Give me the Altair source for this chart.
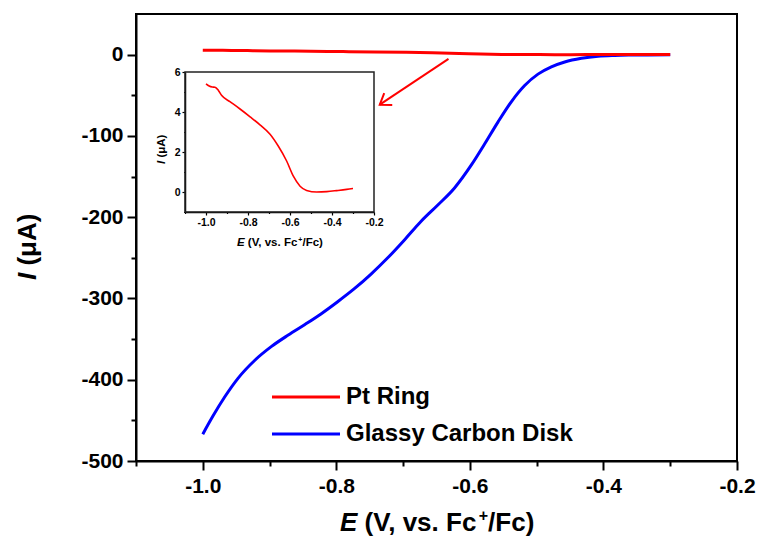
import altair as alt
import pandas as pd

# ---------------- data ----------------
# Pt ring current (also the curve of the inset), E in V vs Fc+/Fc, I in uA
ring_E = [-1.000, -0.985, -0.970, -0.957, -0.941, -0.925, -0.886, -0.838, -0.790,
          -0.743, -0.695, -0.656, -0.616, -0.584, -0.552, -0.521, -0.473, -0.425,
          -0.378, -0.330, -0.300]
ring_I = [5.41, 5.30, 5.25, 5.24, 5.08, 4.82, 4.52, 4.15, 3.76,
          3.36, 2.89, 2.30, 1.55, 0.79, 0.29, 0.08, 0.00, 0.02,
          0.07, 0.13, 0.18]

# Glassy carbon disk current
disk_E = [-1.000, -0.985, -0.967, -0.947, -0.922, -0.897, -0.872, -0.847, -0.823,
          -0.798, -0.773, -0.748, -0.723, -0.698, -0.673, -0.648, -0.623, -0.598,
          -0.578, -0.558, -0.538, -0.518, -0.498, -0.478, -0.458, -0.433, -0.408,
          -0.383, -0.358, -0.300]
disk_I = [-467, -445, -421, -398, -376, -359, -345, -332, -319,
          -304, -288, -270, -250, -228, -205, -185, -164, -136,
          -110, -83, -58, -38, -24, -15, -9, -4.5, -2,
          -1, -0.5, 0]

series_names = ["Pt Ring", "Glassy Carbon Disk"]
series_colors = ["#ff0000", "#0000ff"]

main_x_domain = [-1.1, -0.2]
main_y_domain = [-500, 50]
main_x_major = [-1.0, -0.8, -0.6, -0.4, -0.2]
main_x_minor = [-1.1, -0.9, -0.7, -0.5, -0.3]
main_y_major = [-500, -400, -300, -200, -100, 0]
main_y_minor = [-450, -350, -250, -150, -50]

inset_x_domain = [-1.1, -0.2]
inset_y_domain = [-1, 6]
inset_x_major = [-1.0, -0.8, -0.6, -0.4, -0.2]
inset_x_minor = [-1.1, -0.9, -0.7, -0.5, -0.3]
inset_y_major = [0, 2, 4, 6]
inset_y_minor = [-1, 1, 3, 5]

# arrow from the Pt ring trace to the inset (start, tip)
arrow_E = [-0.632, -0.735]
arrow_I = [-5.3, -61.6]

# ---------------- layout ----------------
FONT = "Liberation Sans"
W, H = 601, 447
PAD = {"left": 128, "top": 6, "right": 19, "bottom": 84}
# inset placement inside the plot area (pixels)
INSET_X_RANGE = [49, 238]
INSET_Y_RANGE = [198, 58]

# Liberation Sans Bold advance widths (per 1000 em)
ADV = {"E": 667, " ": 278, "(": 333, "V": 667, ",": 278, "v": 556, "s": 556, ".": 278,
       "F": 611, "c": 556, "+": 584, "/": 278, ")": 333, "I": 278, "μ": 576, "A": 722}


def tw(s, size):
    return sum(ADV.get(ch, 556) for ch in s) * size / 1000.0


ring_df = pd.DataFrame({"E": ring_E, "I": ring_I, "series": series_names[0]})
disk_df = pd.DataFrame({"E": disk_E, "I": disk_I, "series": series_names[1]})
arrow_df = pd.DataFrame({"E": [arrow_E[0]], "I": [arrow_I[0]],
                         "E2": [arrow_E[1]], "I2": [arrow_I[1]]})
tip_df = pd.DataFrame({"E": [arrow_E[1]], "I": [arrow_I[1]]})
frame_df = pd.DataFrame({"x1": [inset_x_domain[0]], "x2": [inset_x_domain[1]],
                         "y1": [inset_y_domain[0]], "y2": [inset_y_domain[1]]})


def sx(domain, rng=None):
    if rng is None:
        return alt.Scale(domain=domain, nice=False, zero=False)
    return alt.Scale(domain=domain, range=rng, nice=False, zero=False)


MINUS = "\u2212"
fmt_x = "replace(format(datum.value, '.1f'), '" + MINUS + "', '-')"
fmt_y = "replace(format(datum.value, 'd'), '" + MINUS + "', '-')"

common_axis = dict(grid=False, title=None, domainColor="black", tickColor="black",
                   labelColor="black", labelFont=FONT, labelFontWeight="bold",
                   labelFlush=False, labelOverlap=False)

# main axes (major)
ax_main_x = alt.Axis(values=main_x_major, labelExpr=fmt_x, orient="bottom", tickSize=9,
                     tickWidth=2, domainWidth=2, labelFontSize=21, labelPadding=5,
                     **common_axis)
ax_main_y = alt.Axis(values=main_y_major, labelExpr=fmt_y, orient="left", tickSize=9,
                     tickWidth=2, domainWidth=2, labelFontSize=21, labelPadding=4,
                     **common_axis)
# main axes (minor ticks)
ax_main_x_min = alt.Axis(values=main_x_minor, orient="bottom", tickSize=5, tickWidth=2,
                         labels=False, domain=False, grid=False, title=None, tickColor="black")
ax_main_y_min = alt.Axis(values=main_y_minor, orient="left", tickSize=5, tickWidth=2,
                         labels=False, domain=False, grid=False, title=None, tickColor="black")
# inset axes
ax_in_x = alt.Axis(values=inset_x_major, labelExpr=fmt_x, orient="bottom", offset=-(H - INSET_Y_RANGE[0]),
                   tickSize=3, tickWidth=1.2, domainWidth=1.5, labelFontSize=10.5, labelPadding=2,
                   **common_axis)
ax_in_y = alt.Axis(values=inset_y_major, labelExpr=fmt_y, orient="left", offset=-INSET_X_RANGE[0],
                   tickSize=3, tickWidth=1.2, domainWidth=1.5, labelFontSize=10.5, labelPadding=2,
                   **common_axis)
ax_in_x_min = alt.Axis(values=inset_x_minor, orient="bottom", offset=-(H - INSET_Y_RANGE[0]),
                       tickSize=1.5, tickWidth=1.2, labels=False, domain=False, grid=False,
                       title=None, tickColor="black")
ax_in_y_min = alt.Axis(values=inset_y_minor, orient="left", offset=-INSET_X_RANGE[0],
                       tickSize=1.5, tickWidth=1.2, labels=False, domain=False, grid=False,
                       title=None, tickColor="black")

mx = sx(main_x_domain)
my = sx(main_y_domain)
ix = sx(inset_x_domain, INSET_X_RANGE)
iy = sx(inset_y_domain, INSET_Y_RANGE)

blue = alt.Chart(disk_df).mark_line(strokeWidth=3, color=series_colors[1], interpolate="monotone").encode(
    x=alt.X("E:Q", scale=mx, axis=ax_main_x),
    y=alt.Y("I:Q", scale=my, axis=ax_main_y),
)
minor_main = alt.Chart(disk_df).mark_line(opacity=0).encode(
    x=alt.X("E:Q", scale=mx, axis=ax_main_x_min),
    y=alt.Y("I:Q", scale=my, axis=ax_main_y_min),
)
red = alt.Chart(ring_df).mark_line(strokeWidth=3, color=series_colors[0], interpolate="monotone").encode(
    x=alt.X("E:Q", scale=mx, axis=None),
    y=alt.Y("I:Q", scale=my, axis=None),
)
arrow = alt.Chart(arrow_df).mark_rule(color=series_colors[0], strokeWidth=2).encode(
    x=alt.X("E:Q", scale=mx, axis=None),
    y=alt.Y("I:Q", scale=my, axis=None),
    x2="E2:Q",
    y2="I2:Q",
)
arrow_head = alt.Chart(tip_df).mark_point(
    shape="M -0.7 1 L 0 0 L 0.7 1", angle=236, size=420, filled=False,
    stroke=series_colors[0], strokeWidth=2, opacity=1,
).encode(
    x=alt.X("E:Q", scale=mx, axis=None),
    y=alt.Y("I:Q", scale=my, axis=None),
)

inset_line = alt.Chart(ring_df).mark_line(strokeWidth=1.6, color=series_colors[0], interpolate="monotone").encode(
    x=alt.X("E:Q", scale=ix, axis=ax_in_x),
    y=alt.Y("I:Q", scale=iy, axis=ax_in_y),
)
inset_minor = alt.Chart(ring_df).mark_line(opacity=0).encode(
    x=alt.X("E:Q", scale=ix, axis=ax_in_x_min),
    y=alt.Y("I:Q", scale=iy, axis=ax_in_y_min),
)
inset_frame = alt.Chart(frame_df).mark_rect(fill=None, fillOpacity=0, stroke="#222222", strokeWidth=1.5).encode(
    x=alt.X("x1:Q", scale=ix, axis=None),
    x2="x2:Q",
    y=alt.Y("y1:Q", scale=iy, axis=None),
    y2="y2:Q",
)

ONE = alt.Data(values=[{"a": 1}])


def txt(s, x, y, size, italic=False, angle=0, align="left", baseline="alphabetic", color="black"):
    kw = dict(text=s, font=FONT, fontSize=size, fontWeight="bold", align=align,
              baseline=baseline, color=color)
    if italic:
        kw["fontStyle"] = "italic"
    if angle:
        kw["angle"] = angle
    return alt.Chart(ONE).mark_text(**kw).encode(x=alt.value(x), y=alt.value(y))


def x_title(x0, base, size, sup_size, sup_raise):
    a = tw("E ", size)
    b = tw("(V, vs. Fc", size)
    c = tw("+", sup_size)
    return [
        txt("E", x0, base, size, italic=True),
        txt("(V, vs. Fc", x0 + a, base, size),
        txt("+", x0 + a + b, base - sup_raise, sup_size),
        txt("/Fc)", x0 + a + b + c, base, size),
    ]


def y_title(xc, bottom, size):
    a = tw("I ", size)
    return [
        txt("I", xc, bottom, size, italic=True, angle=270, baseline="middle"),
        txt("(\u03bcA)", xc, bottom - a, size, angle=270, baseline="middle"),
    ]


texts = []
texts += x_title(204, 517, 26, 16, 10)
texts += y_title(-108, 266, 26)
texts += x_title(101, 232, 11.5, 7, 4.5)
texts += y_title(26, 150, 11.5)

# legend
LEG_X1, LEG_X2, LEG_TX = 136, 204, 210
LEG_Y = [383, 420]
legend_parts = []
for name, col, yy in zip(series_names, series_colors, LEG_Y):
    legend_parts.append(
        alt.Chart(ONE).mark_rule(color=col, strokeWidth=3).encode(
            x=alt.value(LEG_X1), x2=alt.value(LEG_X2), y=alt.value(yy))
    )
    legend_parts.append(txt(name, LEG_TX, yy, 24, baseline="middle"))

chart = alt.layer(
    blue, minor_main, red, arrow, arrow_head,
    inset_line, inset_minor, inset_frame,
    *texts, *legend_parts,
).resolve_scale(x="independent", y="independent").resolve_axis(
    x="independent", y="independent"
).properties(
    width=W, height=H,
    autosize=alt.AutoSizeParams(type="none"),
    padding=PAD,
    background="white",
).configure_view(stroke="black", strokeWidth=2)

chart.save("out.html", embed_options={"renderer": "svg", "actions": False})
